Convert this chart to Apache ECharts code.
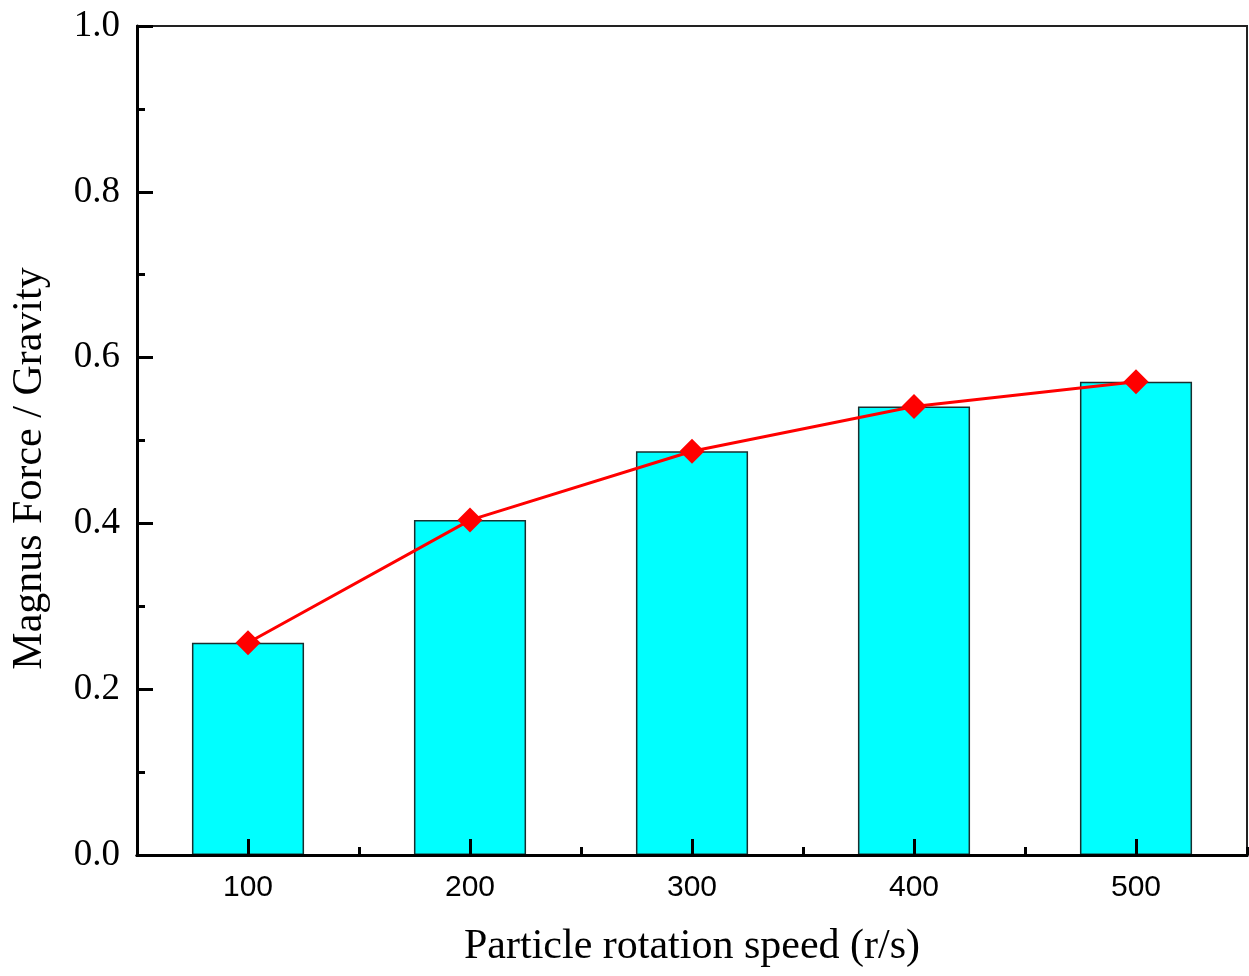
<!DOCTYPE html>
<html>
<head>
<meta charset="utf-8">
<script src="https://cdn.jsdelivr.net/npm/echarts@6/dist/echarts.min.js"></script>
<style>
  html, body { margin: 0; padding: 0; background: #fff; }
  #chart { width: 1249px; height: 976px; }
</style>
</head>
<body>
<div id="chart"></div>
<script>
var speeds = ['100', '200', '300', '400', '500'];
var ratio = [0.256, 0.404, 0.487, 0.541, 0.571];

var serif = '"Liberation Serif", "Times New Roman", serif';
var sans = '"Liberation Sans", Arial, sans-serif';

var chart = echarts.init(document.getElementById('chart'));

var option = {
    animation: false,
    grid: {
        left: 137,
        right: 2,
        top: 26,
        bottom: 121,
        show: true,
        borderColor: '#222',
        borderWidth: 2
    },
    xAxis: [{
        type: 'category',
        data: speeds,
        boundaryGap: true,
        zlevel: 1,
        z: 10,
        name: 'Particle rotation speed (r/s)',
        nameLocation: 'middle',
        nameGap: 71,
        nameTextStyle: { fontFamily: serif, fontSize: 42, color: '#000' },
        axisLine: { show: true, lineStyle: { color: '#000', width: 3 } },
        axisTick: { show: true, inside: true, alignWithLabel: true, length: 16, lineStyle: { color: '#000', width: 3 } },
        axisLabel: { fontFamily: sans, fontSize: 30, color: '#000', margin: 18 },
        splitLine: { show: false }
    }, {
        type: 'category',
        data: speeds,
        position: 'bottom',
        boundaryGap: true,
        zlevel: 1,
        z: 10,
        axisLine: { show: true, lineStyle: { color: '#000', width: 3 } },
        axisTick: { show: true, inside: true, length: 8, lineStyle: { color: '#000', width: 3 } },
        axisLabel: { show: false },
        splitLine: { show: false }
    }],
    yAxis: {
        type: 'value',
        min: 0,
        max: 1,
        interval: 0.2,
        zlevel: 1,
        z: 10,
        name: 'Magnus Force / Gravity',
        nameLocation: 'middle',
        nameGap: 86,
        nameTextStyle: { fontFamily: serif, fontSize: 42, color: '#000', padding: [0, 56, 0, 0] },
        axisLine: { show: true, lineStyle: { color: '#000', width: 3 } },
        axisTick: { show: true, inside: true, length: 16, lineStyle: { color: '#000', width: 3 } },
        minorTick: { show: true, splitNumber: 2, length: 8, lineStyle: { color: '#000', width: 3 } },
        axisLabel: {
            fontFamily: serif, fontSize: 37, color: '#000', margin: 17,
            formatter: function (v) { return v.toFixed(1); }
        },
        splitLine: { show: false }
    },
    series: [{
        type: 'bar',
        data: ratio,
        barWidth: '50.5%',
        itemStyle: { color: '#00ffff', borderColor: '#1a2e2e', borderWidth: 1.5 }
    }, {
        type: 'line',
        data: ratio,
        symbol: 'diamond',
        symbolSize: 25,
        lineStyle: { color: '#ff0000', width: 3 },
        itemStyle: { color: '#ff0000' },
        z: 5
    }]
};

chart.setOption(option);
</script>
</body>
</html>
